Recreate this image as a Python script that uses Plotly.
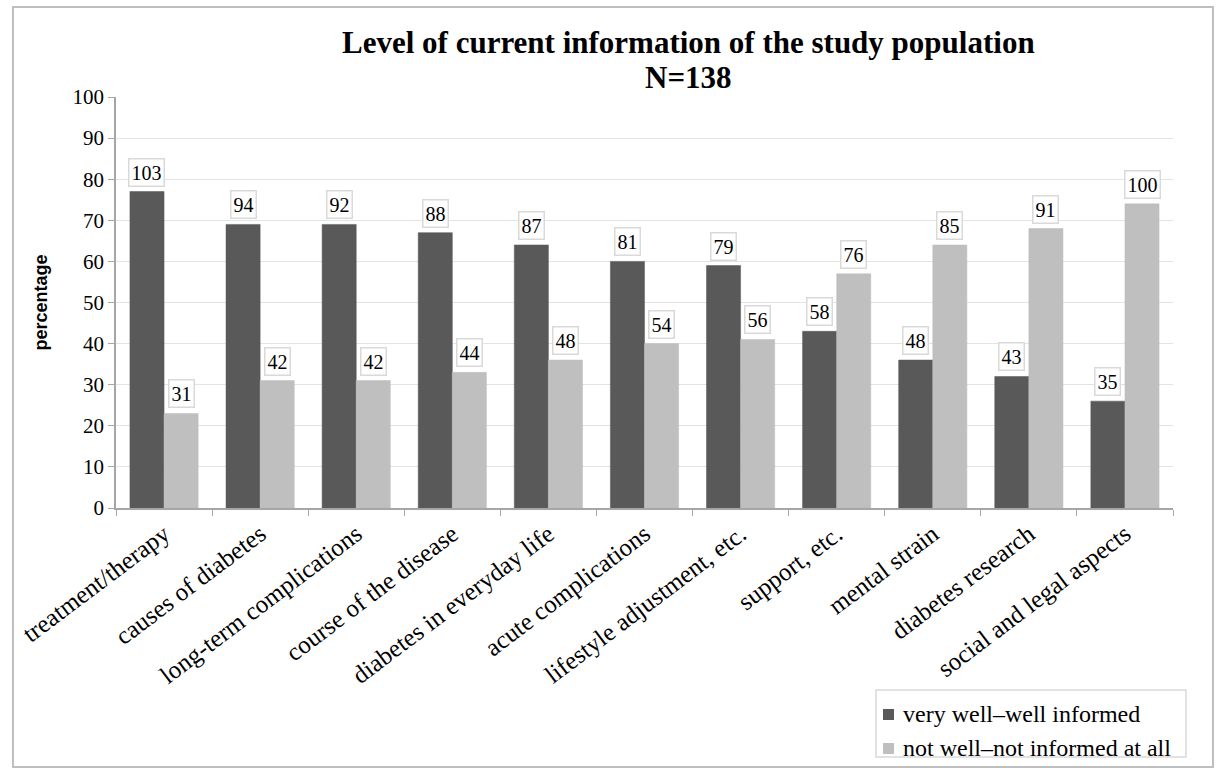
import plotly.graph_objects as go

# Topics of information
topics = [
    "treatment/therapy", "causes of diabetes", "long-term complications",
    "course of the disease", "diabetes in everyday life", "acute complications",
    "lifestyle adjustment, etc.", "support, etc.", "mental strain",
    "diabetes research", "social and legal aspects",
]

# Share of respondents (%) per group
pct_informed = [77, 69, 69, 67, 64, 60, 59, 43, 36, 32, 26]
pct_not_informed = [23, 31, 31, 33, 36, 40, 41, 57, 64, 68, 74]

# Number of respondents per group (N=138)
n_informed = [103, 94, 92, 88, 87, 81, 79, 58, 48, 43, 35]
n_not_informed = [31, 42, 42, 44, 48, 54, 56, 76, 85, 91, 100]

series_names = ["very well\u2013well informed", "not well\u2013not informed at all"]

y_ticks = list(range(0, 101, 10))

title_lines = ["Level of current information of the study population", "N=138"]

SERIF = "Liberation Serif, Times New Roman, serif"
SANS = "Liberation Sans, Arial, sans-serif"
DARK = "#595959"
LIGHT = "#bfbfbf"
colors = [DARK, LIGHT]

W, H = 1216, 768
M_L, M_R, M_T, M_B = 116, 43, 97, 260
PLOT_W = W - M_L - M_R
PLOT_H = H - M_T - M_B


def px_x(px):
    """page pixel column -> paper x"""
    return (px - M_L) / PLOT_W


def px_y(py):
    """page pixel row -> paper y"""
    return (H - M_B - py) / PLOT_H


fig = go.Figure()
for name, vals, col in zip(series_names, (pct_informed, pct_not_informed), colors):
    fig.add_trace(go.Bar(
        x=topics, y=vals, name=name,
        marker=dict(color=col, line=dict(color=col, width=0.5)),
    ))

BARGAP = 0.29
half = (1 - BARGAP) / 4  # centre offset of each bar inside its group

annotations = []
for i in range(len(topics)):
    for off, val, n in ((-half, pct_informed[i], n_informed[i]),
                        (half, pct_not_informed[i], n_not_informed[i])):
        annotations.append(dict(
            x=i + off, y=val, xref="x", yref="y",
            text=str(n), showarrow=False, yanchor="bottom", yshift=5,
            font=dict(family=SERIF, size=20, color="#000000"),
            bgcolor="#ffffff", bordercolor="#d9d9d9", borderwidth=1.5,
            borderpad=2,
        ))

# two-line bold title
for text, ypix in zip(title_lines, (42, 77)):
    annotations.append(dict(
        x=0.542, xref="paper", y=px_y(ypix), yref="paper",
        xanchor="center", yanchor="middle", showarrow=False,
        text=f"<b>{text}</b>",
        font=dict(family=SERIF, size=31, color="#000000"),
    ))

# outer frame of the chart
shapes = [dict(
    type="rect", xref="paper", yref="paper",
    x0=px_x(13), x1=px_x(1213), y0=px_y(767), y1=px_y(7),
    line=dict(color="#bfbfbf", width=2), fillcolor="rgba(0,0,0,0)", layer="below",
)]

# legend box with square keys, bottom right
shapes.append(dict(
    type="rect", xref="paper", yref="paper",
    x0=px_x(876), x1=px_x(1186), y0=px_y(757), y1=px_y(690),
    line=dict(color="#d9d9d9", width=1.5), fillcolor="#ffffff", layer="above",
))
for k, (name, col) in enumerate(zip(series_names, colors)):
    yc = 714 + 34 * k
    shapes.append(dict(
        type="rect", xref="paper", yref="paper",
        x0=px_x(883), x1=px_x(894), y0=px_y(yc + 6), y1=px_y(yc - 5),
        line=dict(width=0), fillcolor=col, layer="above",
    ))
    annotations.append(dict(
        x=px_x(901), y=px_y(yc), xref="paper", yref="paper",
        xanchor="left", yanchor="middle", showarrow=False, text=name,
        font=dict(family=SERIF, size=24, color="#000000"),
    ))

fig.update_layout(
    width=W, height=H,
    margin=dict(l=M_L, r=M_R, t=M_T, b=M_B),
    paper_bgcolor="#ffffff", plot_bgcolor="#ffffff",
    barmode="group", bargap=BARGAP, bargroupgap=0,
    showlegend=False,
    xaxis=dict(
        type="category", tickangle=-37, tickson="boundaries",
        ticks="outside", ticklen=6, tickcolor="#a6a6a6",
        showline=True, linecolor="#a6a6a6", linewidth=1.5,
        showgrid=False, automargin=False,
        tickfont=dict(family=SERIF, size=25, color="#000000"),
    ),
    yaxis=dict(
        range=[0, 100], tickvals=y_ticks, ticks="outside", ticklen=6,
        tickcolor="#a6a6a6", showline=True, linecolor="#a6a6a6", linewidth=1.5,
        gridcolor="#e3e3e3", gridwidth=1, zeroline=False, automargin=False,
        tickfont=dict(family=SERIF, size=21, color="#000000"),
        title=dict(text="<b>percentage</b>", standoff=20,
                   font=dict(family=SANS, size=18, color="#000000")),
    ),
    annotations=annotations,
    shapes=shapes,
)

fig.write_html("out.html")
